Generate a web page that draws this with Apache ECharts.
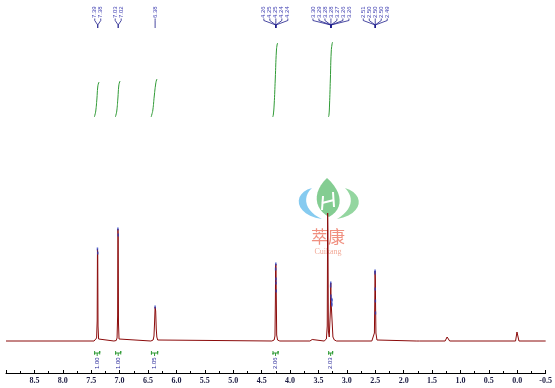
<!DOCTYPE html>
<html><head><meta charset="utf-8">
<script src="https://cdn.jsdelivr.net/npm/echarts@6/dist/echarts.min.js"></script>
<style>html,body{margin:0;padding:0;background:#fff}#c{width:555px;height:388px}</style>
</head><body><div id="c"></div>
<script>
// 1H NMR spectrum: [ppm, intensity] points
const spectrum = [
  [9.0,0],[7.45,0],[7.42,0.5],[7.405,3],[7.395,20],[7.39,92],[7.385,88],[7.38,15],[7.37,2],[7.34,0.3],
  [7.10,0],[7.06,0.5],[7.045,3],[7.035,25],[7.03,112],[7.025,105],[7.02,18],[7.01,2],[6.98,0.3],
  [6.45,0],[6.41,1],[6.395,5],[6.385,18],[6.375,34],[6.365,30],[6.355,12],[6.345,4],[6.33,1],[6.30,0],
  [4.32,0],[4.28,1],[4.265,5],[4.258,40],[4.254,72],[4.25,77],[4.246,70],[4.242,45],[4.235,6],[4.22,1],[4.18,0],
  [3.65,0],[3.61,1.5],[3.58,0],
  [3.40,0],[3.36,2],[3.345,15],[3.338,128],[3.333,110],[3.325,10],[3.31,4],
  [3.30,6],[3.29,30],[3.283,58],[3.278,40],[3.272,42],[3.266,38],[3.26,41],[3.255,15],[3.245,4],[3.22,1],[3.18,0],
  [2.56,0],[2.53,1],[2.515,8],[2.508,40],[2.503,70],[2.498,60],[2.494,35],[2.488,8],[2.47,1],[2.44,0],
  [1.78,0],[1.75,2],[1.72,0],
  [1.27,0],[1.235,4],[1.22,3],[1.19,0],
  [0.03,0],[0.005,9],[-0.005,7],[-0.03,0],[-0.5,0]
];
// picked peak markers [ppm, intensity]
const peakPicks = [
  [7.39,92],[7.385,88],[7.03,112],[7.025,106],[6.375,34],
  [4.254,72],[4.25,77],[4.248,62],[4.246,58],[4.244,50],
  [3.285,55],[3.283,58],[3.279,45],[3.272,42],[3.266,38],[3.263,36],[3.26,41],
  [2.505,68],[2.503,70],[2.50,52],[2.498,40],[2.496,28]
];
// integral curves [ppm, level]
const integral1 = [[7.445,224],[7.435,226],[7.42,230],[7.40,242],[7.385,254],[7.37,258],[7.36,259]];
const integral2 = [[7.075,224],[7.065,226],[7.05,230],[7.03,243],[7.015,255],[7.00,259],[6.99,260]];
const integral3 = [[6.445,224],[6.435,226],[6.415,231],[6.39,245],[6.365,257],[6.35,261],[6.34,262]];
const integral4 = [[4.305,224],[4.295,226],[4.28,236],[4.26,262],[4.24,290],[4.225,297],[4.215,298]];
const integral5 = [[3.325,224],[3.315,226],[3.305,236],[3.29,262],[3.275,289],[3.26,297],[3.25,299]];
const integralRanges = [[7.44,7.35],[7.07,6.98],[6.44,6.33],[4.30,4.21],[3.32,3.25]];
const integralValues = ['1.00','1.00','1.05','2.06','2.03'];
// peak label groups
const groupLabels = [
  ['7.39','7.38'],['7.03','7.02'],['6.38'],
  ['4.26','4.25','4.25','4.24','4.24'],
  ['3.30','3.29','3.28','3.28','3.27','3.26','3.26'],
  ['2.51','2.50','2.50','2.50','2.49']
];
const groupPeaks = [7.385,7.025,6.375,4.25,3.28,2.50];

const chart = echarts.init(document.getElementById('c'), null, {renderer:'canvas'});
const intStyle = {color:'#2f9a35', width:1};
function intSeries(d){return {type:'line',data:d,smooth:true,showSymbol:false,lineStyle:intStyle,itemStyle:{color:'#2f9a35'},z:3};}
chart.setOption({
  animation:false,
  grid:{left:6,right:7.5,top:5,bottom:15},
  xAxis:{type:'value',min:-0.5,max:9,interval:0.5,inverse:true,
    axisLine:{onZero:false,lineStyle:{color:'#000',width:1}},
    axisTick:{inside:true,length:3,lineStyle:{color:'#000'}},
    minorTick:{show:true,splitNumber:2,length:2,lineStyle:{color:'#000'}},
    splitLine:{show:false},
    axisLabel:{showMaxLabel:false,formatter:v=>v.toFixed(1),fontFamily:'Liberation Serif',fontWeight:'bold',fontSize:8,color:'#1a1a40',margin:4}},
  yAxis:{type:'value',min:-32,max:336,show:false},
  series:[
    {type:'line',data:spectrum,showSymbol:false,lineStyle:{color:'#8b0a0a',width:1},itemStyle:{color:'#8b0a0a'},z:4},
    {type:'scatter',data:peakPicks,symbol:'rect',symbolSize:[1.5,3],itemStyle:{color:'#2a3fbf'},z:5},
    intSeries(integral1),intSeries(integral2),intSeries(integral3),intSeries(integral4),intSeries(integral5)
  ]
});

// sample cubic bezier segments into polygon points (logo decoration only)
function bez(segs){
  const pts=[];
  segs.forEach(s=>{
    for(let i=0;i<=12;i++){
      const t=i/12,u=1-t;
      pts.push([u*u*u*s[0][0]+3*u*u*t*s[1][0]+3*u*t*t*s[2][0]+t*t*t*s[3][0],
                u*u*u*s[0][1]+3*u*u*t*s[1][1]+3*u*t*t*s[2][1]+t*t*t*s[3][1]]);
    }
  });
  return pts;
}
const g = [];
// logo watermark
g.push({type:'polygon',z:0,shape:{points:bez([[[312,188],[292,193],[294,215],[322,219]],[[322,219],[306,212],[301,198],[312,188]]])},style:{fill:'#86cbf0'}});
g.push({type:'polygon',z:0,shape:{points:bez([[[345,188],[365,194],[364,214],[337,219]],[[337,219],[352,210],[355,198],[345,188]]])},style:{fill:'#94d6a0'}});
g.push({type:'polygon',z:0,shape:{points:bez([[[327,178],[312,192],[314,209],[329,217]],[[329,217],[344,209],[343,192],[327,178]]])},style:{fill:'#84cd92'}});
g.push({type:'polyline',z:0,shape:{points:[[323,196],[322,210]]},style:{stroke:'#fff',lineWidth:2}});
g.push({type:'polyline',z:0,shape:{points:[[333,192],[334,207]]},style:{stroke:'#fff',lineWidth:2}});
g.push({type:'polyline',z:0,shape:{points:[[322,203],[334,200]]},style:{stroke:'#fff',lineWidth:2}});
g.push({type:'text',z:0,x:328,y:237,style:{text:'萃康',fontFamily:'Noto Sans CJK SC',fontSize:17,fill:'#f09080',align:'center',verticalAlign:'middle'}});
g.push({type:'text',z:0,x:328,y:252,style:{text:'Cuikang',fontFamily:'Liberation Serif',fontSize:8,fill:'#f2aa98',align:'center',verticalAlign:'middle'}});

function px(ppm,v){return chart.convertToPixel({gridIndex:0},[ppm,v]);}
// peak label trees
groupLabels.forEach((labs,gi)=>{
  const p = px(groupPeaks[gi],0)[0];
  const sp = 6;
  const n = labs.length;
  labs.forEach((t,i)=>{
    const lx = p + (i-(n-1)/2)*sp;
    g.push({type:'text',x:lx,y:18,rotation:Math.PI/2,style:{text:t,fontFamily:'Liberation Sans',fontSize:6,fill:'#3b3bb0',align:'left',verticalAlign:'middle'}});
    g.push({type:'polyline',shape:{points:[[lx,18.5],[lx,20.5],[p,25],[p,28]]},style:{stroke:'#1c1c8a',lineWidth:0.8,fill:null}});
  });
});
// integration brackets
integralRanges.forEach((r,i)=>{
  const x1 = px(r[0],0)[0], x2 = px(r[1],0)[0], xc=(x1+x2)/2;
  const y = 353;
  g.push({type:'polyline',shape:{points:[[x1,y-2],[x1,y+1.5],[x1,y],[x2,y],[x2,y-2],[x2,y+1.5]]},style:{stroke:'#2f9a35',lineWidth:1,fill:null}});
  g.push({type:'polyline',shape:{points:[[xc,y],[xc,y+3]]},style:{stroke:'#2f9a35',lineWidth:1}});
  g.push({type:'text',x:xc,y:369,rotation:Math.PI/2,style:{text:integralValues[i],fontFamily:'Liberation Sans',fontSize:6,fill:'#2a2a9a',align:'left',verticalAlign:'middle'}});
});
chart.setOption({graphic:{elements:g}});
</script>
</body></html>
